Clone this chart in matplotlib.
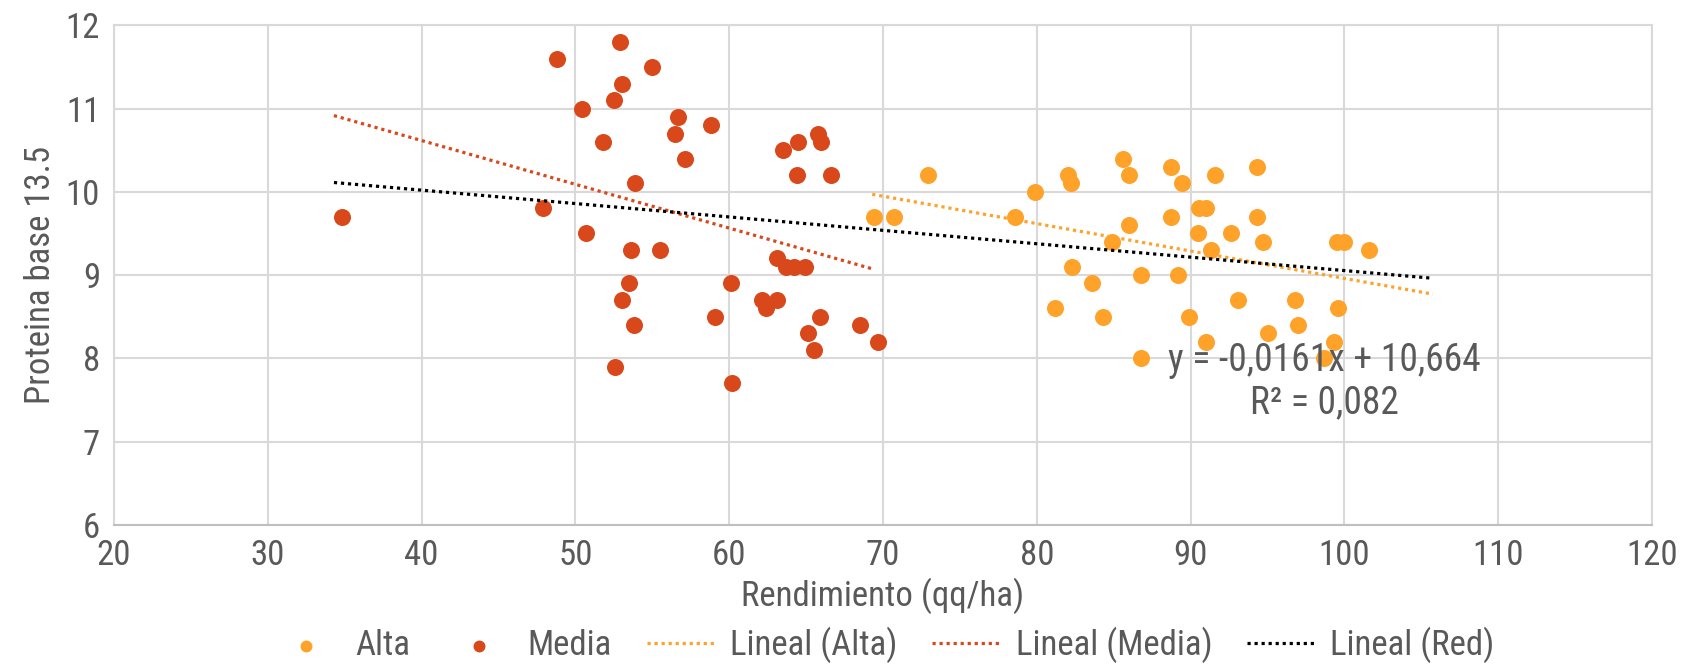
import numpy as np
import matplotlib.pyplot as plt

plt.rcParams['font.family'] = ['Roboto Condensed', 'Liberation Sans Narrow', 'Roboto', 'DejaVu Sans']

# Alta
alta_x = [69.4, 70.7, 72.9, 78.6, 79.9, 82.05, 82.2, 85.6, 86.0, 88.75, 89.45, 91.6, 94.3,
          90.55, 91.0, 88.75, 86.0, 94.3, 90.5, 92.6, 84.9, 94.7, 99.5, 100.0, 101.6, 91.3,
          82.3, 86.8, 89.2, 83.6, 81.2, 84.3, 89.9, 93.1, 96.8, 99.6, 97.0, 95.0, 91.0, 99.3,
          86.8, 98.7]
alta_y = [9.7, 9.7, 10.2, 9.7, 10.0, 10.2, 10.1, 10.4, 10.2, 10.3, 10.1, 10.2, 10.3,
          9.8, 9.8, 9.7, 9.6, 9.7, 9.5, 9.5, 9.4, 9.4, 9.4, 9.4, 9.3, 9.3,
          9.1, 9.0, 9.0, 8.9, 8.6, 8.5, 8.5, 8.7, 8.7, 8.6, 8.4, 8.3, 8.2, 8.2,
          8.0, 8.0]

# Media
media_x = [34.8, 48.8, 47.9, 52.9, 53.0, 55.0, 52.5, 50.4, 56.7, 56.5, 58.8, 51.8, 57.1,
           53.9, 50.7, 53.6, 55.5, 53.5, 53.0, 53.8, 52.6, 60.1, 60.2, 59.1, 63.5, 64.5,
           65.8, 66.0, 64.4, 66.6, 63.1, 63.7, 64.2, 64.9, 62.1, 62.4, 63.1, 65.9, 65.1,
           65.5, 68.5, 69.7]
media_y = [9.7, 11.6, 9.8, 11.8, 11.3, 11.5, 11.1, 11.0, 10.9, 10.7, 10.8, 10.6, 10.4,
           10.1, 9.5, 9.3, 9.3, 8.9, 8.7, 8.4, 7.9, 8.9, 7.7, 8.5, 10.5, 10.6,
           10.7, 10.6, 10.2, 10.2, 9.2, 9.1, 9.1, 9.1, 8.7, 8.6, 8.7, 8.5, 8.3,
           8.1, 8.4, 8.2]

# trend lines (slope, intercept, x range)
trend_alta = [-0.0329, 12.25, 69.3, 105.75]
trend_media = [-0.0526, 12.72, 34.3, 69.3]
trend_red = [-0.0161, 10.664, 34.3, 105.75]

c_alta = '#FFA22A'
c_media = '#D9481A'
c_text = '#595959'
c_grid = '#D9D9D9'

fig = plt.figure(figsize=(16.84, 6.66), dpi=100)
ax = fig.add_axes([0.0677, 0.212, 0.9133, 0.75])

ax.scatter(alta_x, alta_y, s=150, color=c_alta, label='Alta', zorder=3, linewidths=0)
ax.scatter(media_x, media_y, s=150, color=c_media, label='Media', zorder=3, linewidths=0)

for tr, col, lab in [(trend_alta, c_alta, 'Lineal (Alta)'),
                     (trend_media, c_media, 'Lineal (Media)'),
                     (trend_red, 'black', 'Lineal (Red)')]:
    xs = np.array([tr[2], tr[3]])
    ax.plot(xs, tr[0] * xs + tr[1], linestyle=(0, (1, 1.2)), color=col, lw=2.3, label=lab, zorder=4)

ax.text(98.7, 7.97, 'y = -0,0161x + 10,664', ha='center', va='center', fontsize=27, color=c_text, zorder=5)
ax.text(98.7, 7.46, 'R² = 0,082', ha='center', va='center', fontsize=27, color=c_text, zorder=5)

ax.set_xlim(20, 120)
ax.set_ylim(6, 12)
ax.set_xticks(np.arange(20, 121, 10))
ax.set_yticks(np.arange(6, 13, 1))
ax.grid(True, color=c_grid, lw=1.5)
ax.set_axisbelow(True)
for s in ax.spines.values():
    s.set_color(c_grid)
    s.set_linewidth(1.5)
ax.spines['bottom'].set_color('#BFBFBF')
ax.tick_params(length=0, labelsize=25, labelcolor=c_text, pad=10)

ax.set_xlabel('Rendimiento (qq/ha)', fontsize=25, color=c_text, labelpad=4)
ax.set_ylabel('Proteina base 13.5', fontsize=25, color=c_text, labelpad=6)

leg = ax.legend(loc='upper center', bbox_to_anchor=(0.5, -0.155), ncol=5, frameon=False,
                fontsize=25, handlelength=2.0, handletextpad=0.4, columnspacing=1.0,
                markerscale=0.7, labelcolor=c_text, borderpad=0.2)

fig.savefig('out.png')
